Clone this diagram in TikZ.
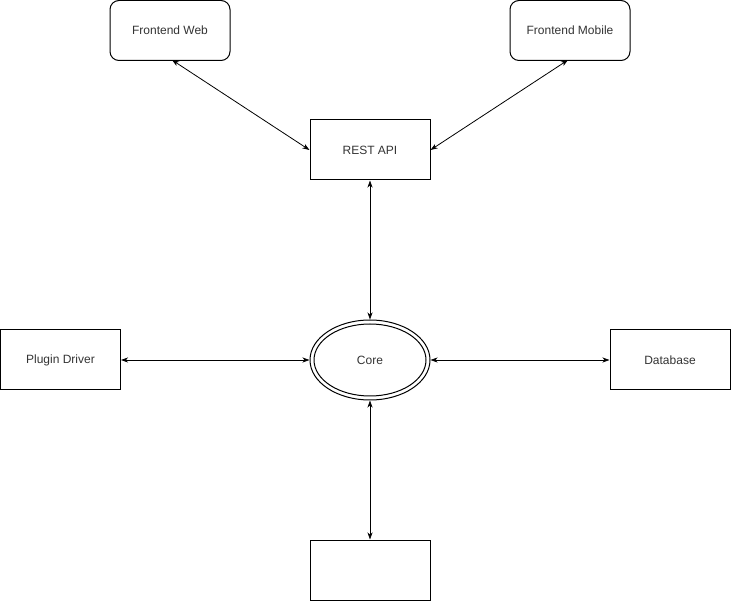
\documentclass[tikz,border=0pt]{standalone}
\usepackage{fontspec}
\setmainfont{Liberation Sans}
\usetikzlibrary{arrows.meta,shapes.geometric}
\begin{document}
\begin{tikzpicture}[x=1pt,y=-1pt,
  font=\fontsize{12}{14}\selectfont,
  every node/.style={text=black!80},
  box/.style={draw=black,line width=1pt,minimum width=120pt,minimum height=60pt,inner sep=0pt},
  rbox/.style={box,rounded corners=9pt},
  link/.style={line width=0.8pt,{Stealth[length=7pt,width=5pt,inset=2pt]}-{Stealth[length=7pt,width=5pt,inset=2pt]}}]
\useasboundingbox (0,0) rectangle (731,601);
\node[rbox] (web) at (170,30.5) {Frontend Web};
\node[rbox] (mobile) at (570,30.5) {Frontend Mobile};
\node[box] (rest) at (370,150) {REST API};
\node[box] (plugin) at (60.5,360) {Plugin Driver};
\node[box] (db) at (670,360) {Database};
\node[box] (bottom) at (370,570) {};
\node[ellipse,draw=black,line width=1pt,minimum width=120pt,minimum height=80pt,inner sep=0pt] (core) at (370,360) {Core};
\draw[line width=1pt] (core.center) ellipse [x radius=56, y radius=36];
\coordinate (webb) at (172,60);
\coordinate (mobb) at (568,60);
\draw[link] (webb) -- (rest.west);
\draw[link] (mobb) -- (rest.east);
\draw[link] (rest.south) -- (core.north);
\draw[link] (plugin.east) -- (core.west);
\draw[link] (core.east) -- (db.west);
\draw[link] (core.south) -- (bottom.north);
\end{tikzpicture}
\end{document}
